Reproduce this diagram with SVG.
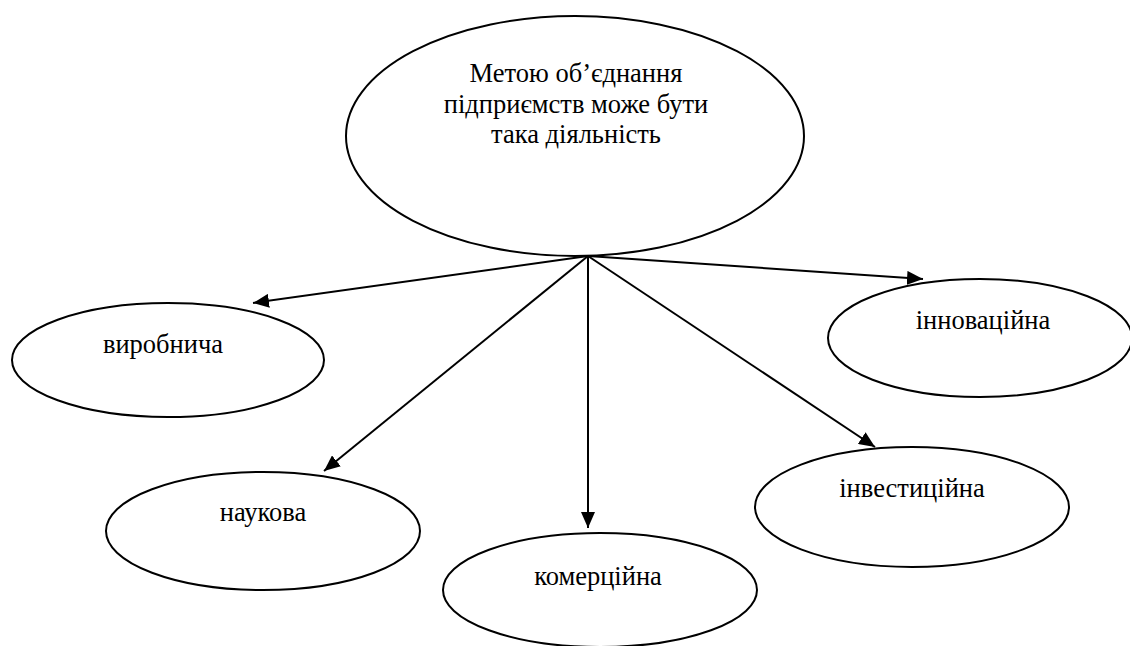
<svg xmlns="http://www.w3.org/2000/svg" width="1130" height="646" viewBox="0 0 1130 646">
<defs>
<style>
.n{fill:#fff;stroke:#000;stroke-width:2}
.t{font-family:"Liberation Serif","Times New Roman",serif;font-size:26.5px;fill:#000;text-anchor:middle}
.c{stroke:#000;stroke-width:2;fill:none;marker-end:url(#ah)}
</style>
<marker id="ah" viewBox="0 0 16 14" refX="16" refY="7" markerWidth="16" markerHeight="14" markerUnits="userSpaceOnUse" orient="auto">
<path d="M0,0 L16,7 L0,14 Z" fill="#000"/>
</marker>
</defs>
<rect width="1130" height="646" fill="#fff"/>
<g id="root">
<ellipse class="n" cx="575" cy="136" rx="229" ry="120"/>
<text class="t" x="576" y="82">Метою об’єднання</text>
<text class="t" x="576" y="113">підприємств може бути</text>
<text class="t" x="576" y="143">така діяльність</text>
</g>
<g id="vyrobnycha">
<ellipse class="n" cx="168" cy="360" rx="156" ry="57"/>
<text class="t" x="163" y="353">виробнича</text>
</g>
<g id="naukova">
<ellipse class="n" cx="263" cy="531" rx="157" ry="59"/>
<text class="t" x="263" y="521">наукова</text>
</g>
<g id="komertsiina">
<ellipse class="n" cx="600" cy="590" rx="157" ry="57"/>
<text class="t" x="598" y="585">комерційна</text>
</g>
<g id="investytsiina">
<ellipse class="n" cx="912" cy="507" rx="157" ry="60"/>
<text class="t" x="912" y="497">інвестиційна</text>
</g>
<g id="innovatsiina">
<ellipse class="n" cx="980" cy="338" rx="152" ry="59"/>
<text class="t" x="983" y="329">інноваційна</text>
</g>
<g id="connectors">
<line class="c" x1="588" y1="256" x2="253" y2="303"/>
<line class="c" x1="588" y1="256" x2="324" y2="471"/>
<line class="c" x1="588" y1="256" x2="588" y2="528"/>
<line class="c" x1="588" y1="256" x2="875" y2="447"/>
<line class="c" x1="588" y1="256" x2="923" y2="279"/>
</g>
</svg>
